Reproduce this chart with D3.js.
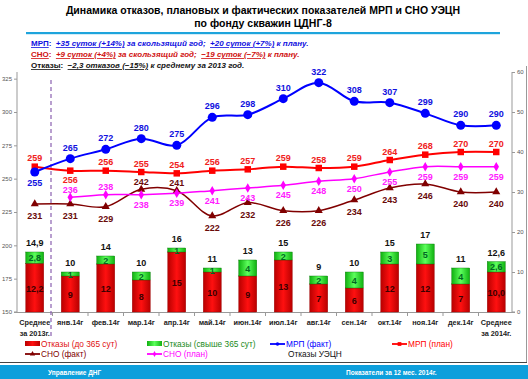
<!DOCTYPE html>
<html><head><meta charset="utf-8">
<script src="https://cdn.jsdelivr.net/npm/d3@7"></script>
<style>body{margin:0;background:#fff}svg{display:block}text{font-family:"Liberation Sans",Arial,sans-serif}</style>
</head><body><svg id="c" width="528" height="379"></svg>
<script>
const categories = [["Среднее","за 2013г."],["янв.14г"],["фев.14г"],["мар.14г"],["апр.14г"],["май.14г"],["июн.14г"],["июл.14г"],["авг.14г"],["сен.14г"],["окт.14г"],["ноя.14г"],["дек.14г"],["Среднее","за 2014г."]];
const failsUnder = [12.2,9,12,8,15,10,9,13,7,6,12,12,7,10.0];
const failsOver = [2.8,1,2,2,1,1,4,2,2,4,3,5,4,2.6];
const failsTotal = [14.9,10,14,10,16,11,13,15,9,10,15,17,11,12.6];
const mrpFact = [255,265,272,280,275,296,298,310,322,308,307,299,290,290];
const mrpPlan = [259,256,256,255,254,256,257,259,258,259,264,268,270,270];
const snoFact = [231,231,229,242,241,222,232,226,226,234,243,246,240,240];
const snoPlan = [null,236,238,238,239,241,243,245,248,250,255,259,259,259];
const leftTicks = [150,175,200,225,250,275,300,325];
const rightTicks = [0,10,20,30,40,50,60];

const svg = d3.select("#c");

const x = d3.scaleBand().domain(d3.range(categories.length)).range([17, 514]).padding(0);
const cx = i => x(i) + x.bandwidth() / 2;
const yL = d3.scaleLinear().domain([150, 330]).range([312, 72]);
const yR = d3.scaleLinear().domain([0, 60]).range([312, 72]);

const defs = svg.append("defs");
function grad(id, c1, c2) {
  const g = defs.append("linearGradient").attr("id", id).attr("x1", 0).attr("x2", 1).attr("y1", 0).attr("y2", 0);
  g.append("stop").attr("offset", "0%").attr("stop-color", c1);
  g.append("stop").attr("offset", "50%").attr("stop-color", c2);
  g.append("stop").attr("offset", "100%").attr("stop-color", c1);
}
grad("gr", "#b80000", "#ff1010");
grad("gg", "#10b010", "#5cff5c");

// title
svg.append("text").attr("x", 263).attr("y", 14).attr("text-anchor", "middle").attr("font-size", 10.5).attr("font-weight", "bold")
  .text("Динамика отказов, плановых и фактических показателей МРП и СНО УЭЦН");
svg.append("text").attr("x", 263).attr("y", 27).attr("text-anchor", "middle").attr("font-size", 10.5).attr("font-weight", "bold")
  .text("по фонду скважин ЦДНГ-8");
svg.append("rect").attr("x", 26).attr("y", 32).attr("width", 474).attr("height", 2.2).attr("fill", "#1ea4dc");

function info(y, color, parts) {
  const t = svg.append("text").attr("x", 31).attr("y", y).attr("font-size", 8).attr("font-weight", "bold").attr("fill", color);
  parts.forEach(p => {
    t.append("tspan").text(p[0]).attr("font-style", p[2] ? "normal" : "italic")
      .attr("text-decoration", p[1] ? "underline" : null).attr("xml:space", "preserve");
  });
}
info(46, "#1010e0", [["МРП", 1, 1], [":  ", 0, 1], ["+35 суток (+14%)", 1], [" за скользящий год;  ", 0], ["+20 суток (+7%)", 1], [" к плану.", 0]]);
info(57, "#d01010", [["СНО", 1, 1], [":  ", 0, 1], ["+9 суток (+4%)", 1], [" за скользящий год;  ", 0], ["−19 суток (−7%)", 1], [" к плану.", 0]]);
info(68, "#111", [["Отказы", 1, 1], [":  ", 0, 1], ["−2,3 отказов (−15%)", 1], [" к среднему за 2013 год.", 0]]);

// axes
const axL = svg.append("g").attr("transform", "translate(17,0)").call(d3.axisLeft(yL).tickValues(leftTicks).tickSize(3).tickPadding(2));
const axR = svg.append("g").attr("transform", "translate(512,0)").call(d3.axisRight(yR).tickValues(rightTicks).tickSize(3).tickPadding(2));
[axL, axR].forEach(a => {
  a.select(".domain").attr("stroke", "#999").attr("d", a === axL ? "M-3,312H0V72" : "M3,312H0V72");
  a.selectAll(".tick line").attr("stroke", "#999");
  a.selectAll(".tick text").attr("font-size", 6).attr("fill", "#555");
});
svg.append("line").attr("x1", 17).attr("x2", 512).attr("y1", 312.5).attr("y2", 312.5).attr("stroke", "#999");
svg.selectAll(".xt").data(d3.range(1, categories.length)).enter().append("line")
  .attr("x1", i => x(i)).attr("x2", i => x(i)).attr("y1", 312).attr("y2", 316).attr("stroke", "#999");
categories.forEach((c, i) => {
  const t = svg.append("text").attr("x", cx(i)).attr("y", 325).attr("text-anchor", "middle").attr("font-size", 7.3).attr("font-weight", "bold").attr("fill", "#222");
  c.forEach((s, k) => t.append("tspan").attr("x", cx(i)).attr("dy", k ? 10.5 : 0).text(s));
});

svg.append("line").attr("x1", x(1) - 1.5).attr("x2", x(1) - 1.5).attr("y1", 80).attr("y2", 338)
  .attr("stroke", "#8a60b0").attr("stroke-width", 1.2).attr("stroke-dasharray", "4,3");

// bars
const bw = 18;
const g = svg.append("g");
g.selectAll(".r").data(failsUnder).enter().append("rect")
  .attr("x", (d, i) => cx(i) - bw / 2).attr("width", bw).attr("y", d => yR(d)).attr("height", d => yR(0) - yR(d))
  .attr("fill", "url(#gr)").attr("stroke", "#900").attr("stroke-width", 0.4);
g.selectAll(".gb").data(failsOver).enter().append("rect")
  .attr("x", (d, i) => cx(i) - bw / 2).attr("width", bw).attr("y", (d, i) => yR(failsUnder[i] + d)).attr("height", d => yR(0) - yR(d))
  .attr("fill", "url(#gg)").attr("stroke", "#070").attr("stroke-width", 0.4);
const avg = i => i === 0 || i === categories.length - 1;
const f1 = v => v.toFixed(1).replace(".", ",");
failsUnder.forEach((d, i) => {
  g.append("text").attr("x", cx(i)).attr("y", yR(d / 2) + 4).attr("text-anchor", "middle").attr("font-size", 9).attr("font-weight", "bold").attr("fill", "#3a0000")
    .text(avg(i) ? f1(d) : d);
  g.append("text").attr("x", cx(i)).attr("y", yR(d + failsOver[i] / 2) + 3.5).attr("text-anchor", "middle").attr("font-size", 9).attr("font-weight", "bold").attr("fill", "#062")
    .text(avg(i) ? f1(failsOver[i]) : failsOver[i]);
  g.append("text").attr("x", cx(i)).attr("y", yR(d + failsOver[i]) - 6).attr("text-anchor", "middle").attr("font-size", 9).attr("font-weight", "bold").attr("fill", "#111")
    .text(avg(i) ? f1(failsTotal[i]) : failsTotal[i]);
});

function series(data, color, lw, marker, size, labelColor, below, up, down) {
  const pts = data.map((v, i) => [i, v]).filter(p => p[1] != null);
  const line = d3.line().x(p => cx(p[0])).y(p => yL(p[1])).curve(d3.curveCatmullRom.alpha(0.5));
  svg.append("path").attr("d", line(pts)).attr("fill", "none").attr("stroke", color).attr("stroke-width", lw);
  svg.append("g").selectAll("path").data(pts).enter().append("path")
    .attr("transform", p => `translate(${cx(p[0])},${yL(p[1])})`)
    .attr("d", d3.symbol().type(marker).size(size)).attr("fill", color);
  svg.append("g").selectAll("text").data(pts).enter().append("text")
    .attr("x", p => cx(p[0])).attr("y", p => yL(p[1]) + (below(p[0]) ? down : -up))
    .attr("text-anchor", "middle").attr("font-size", 9).attr("font-weight", "bold").attr("fill", labelColor).text(p => p[1]);
}
series(snoFact, "#800000", 1.5, d3.symbolTriangle, 28, "#6a0a0a", i => i !== 3 && i !== 4, 4.5, 15);
series(snoPlan, "#ff00ff", 1.5, d3.symbolDiamond, 26, "#ff20ff", i => i >= 3, 4.5, 13);
series(mrpPlan, "#ff0000", 2, d3.symbolSquare, 42, "#f02020", i => i === 1, 5.5, 12);
series(mrpFact, "#0000ff", 2, d3.symbolCircle, 64, "#1010e0", i => i === 0, 8, 14);

function legRect(x0, y0, fill, label, color) {
  svg.append("rect").attr("x", x0).attr("y", y0 - 6).attr("width", 15).attr("height", 5).attr("fill", fill);
  svg.append("text").attr("x", x0 + 16).attr("y", y0).attr("font-size", 8.3).attr("fill", color).text(label);
}
function legLine(x0, y0, color, marker, size, label) {
  svg.append("line").attr("x1", x0).attr("x2", x0 + 15).attr("y1", y0 - 3).attr("y2", y0 - 3).attr("stroke", color).attr("stroke-width", 1.8);
  svg.append("path").attr("transform", `translate(${x0 + 7.5},${y0 - 3})`).attr("d", d3.symbol().type(marker).size(size)).attr("fill", color);
  svg.append("text").attr("x", x0 + 16).attr("y", y0).attr("font-size", 8.3).attr("fill", color).text(label);
}
legRect(25, 347, "url(#gr)", "Отказы (до 365 сут)", "#e01010");
legRect(147, 347, "url(#gg)", "Отказы (свыше 365 сут)", "#1a8a1a");
legLine(270, 347, "#0000ff", d3.symbolCircle, 10, "МРП (факт)");
legLine(392, 347, "#ff0000", d3.symbolSquare, 14, "МРП (план)");
legLine(25, 357, "#800000", d3.symbolTriangle, 12, "СНО (факт)");
legLine(147, 357, "#ff00ff", d3.symbolDiamond, 10, "СНО (план)");
svg.append("text").attr("x", 288).attr("y", 357).attr("font-size", 8.3).attr("fill", "#111").text("Отказы УЭЦН");

svg.append("line").attr("x1", 526.5).attr("x2", 526.5).attr("y1", 66).attr("y2", 362).attr("stroke", "#999");
svg.append("line").attr("x1", 0).attr("x2", 527).attr("y1", 362.5).attr("y2", 362.5).attr("stroke", "#444").attr("stroke-width", 1.2);
svg.append("rect").attr("x", 0).attr("y", 365).attr("width", 528).attr("height", 14).attr("fill", "#0d9fdc");
svg.append("text").attr("x", 48).attr("y", 374.5).attr("font-size", 6.5).attr("font-weight", "bold").attr("fill", "#fff").text("Управление ДНГ");
svg.append("text").attr("x", 346).attr("y", 374.5).attr("font-size", 6.5).attr("font-weight", "bold").attr("fill", "#fff").text("Показатели за 12 мес. 2014г.");
</script></body></html>
